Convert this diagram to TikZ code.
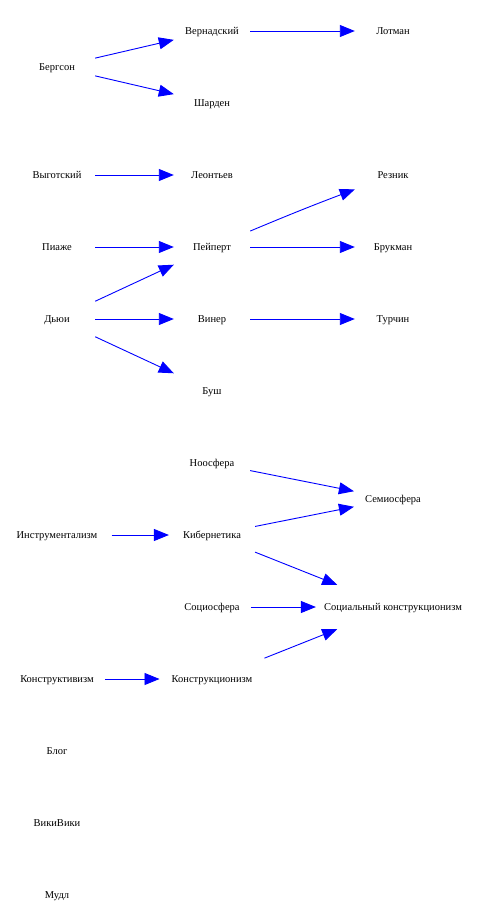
\documentclass[tikz,border=0pt]{standalone}
\usepackage{fontspec}
\setmainfont{Liberation Serif}
\usetikzlibrary{arrows.meta}
\definecolor{edgeblue}{RGB}{0,0,255}
\tikzset{
  nd/.style={rectangle, inner xsep=11pt, inner ysep=1pt, minimum width=76pt, minimum height=44pt, text height=9pt, text depth=2pt, font=\fontsize{10.5}{12}\selectfont},
  ed/.style={draw=edgeblue, line width=0.9pt, -{Triangle[length=15pt,width=12pt]}}
}
\begin{document}
\begin{tikzpicture}[x=1pt,y=-1pt]
\useasboundingbox (0,0) rectangle (480,923);
\node[nd] (bergson) at (57,67) {Бергсон};
\node[nd] (vernad) at (212,31) {Вернадский};
\node[nd] (lotman) at (393,31) {Лотман};
\node[nd] (sharden) at (212,103) {Шарден};
\node[nd] (vygot) at (57,175) {Выготский};
\node[nd] (leont) at (212,175) {Леонтьев};
\node[nd] (reznik) at (393,175) {Резник};
\node[nd] (piaget) at (57,247) {Пиаже};
\node[nd] (papert) at (212,247) {Пейперт};
\node[nd] (brukman) at (393,247) {Брукман};
\node[nd] (dewey) at (57,319) {Дьюи};
\node[nd] (wiener) at (212,319) {Винер};
\node[nd] (turchin) at (393,319) {Турчин};
\node[nd] (bush) at (212,391) {Буш};
\node[nd] (noo) at (212,463) {Ноосфера};
\node[nd] (semio) at (393,499) {Семиосфера};
\node[nd, inner xsep=14pt] (instr) at (57,535) {Инструментализм};
\node[nd, inner xsep=14pt] (kiber) at (212,535) {Кибернетика};
\node[nd] (socio) at (212,607) {Социосфера};
\node[nd, inner xsep=8pt] (soccon) at (393,607) {Социальный конструкционизм};
\node[nd] (konstrv) at (57,679) {Конструктивизм};
\node[nd, inner xsep=12pt] (konstrc) at (212,679) {Конструкционизм};
\node[nd] (blog) at (57,751) {Блог};
\node[nd] (wiki) at (57,823) {ВикиВики};
\node[nd] (moodle) at (57,895) {Мудл};

\draw[ed] (bergson) -- (vernad);
\draw[ed] (bergson) -- (sharden);
\draw[ed] (vernad) -- (lotman);
\draw[ed] (vygot) -- (leont);
\draw[ed] (papert) to[bend left=1] (reznik);
\draw[ed] (piaget) -- (papert);
\draw[ed] (papert) -- (brukman);
\draw[ed] (dewey) -- (papert);
\draw[ed] (dewey) -- (wiener);
\draw[ed] (wiener) -- (turchin);
\draw[ed] (dewey) -- (bush);
\draw[ed] (noo) -- (semio);
\draw[ed] (kiber) -- (semio);
\draw[ed] (instr) -- (kiber);
\draw[ed] (kiber) -- (soccon);
\draw[ed] (socio) -- (soccon);
\draw[ed] (konstrc) -- (soccon);
\draw[ed] (konstrv) -- (konstrc);
\end{tikzpicture}
\end{document}
